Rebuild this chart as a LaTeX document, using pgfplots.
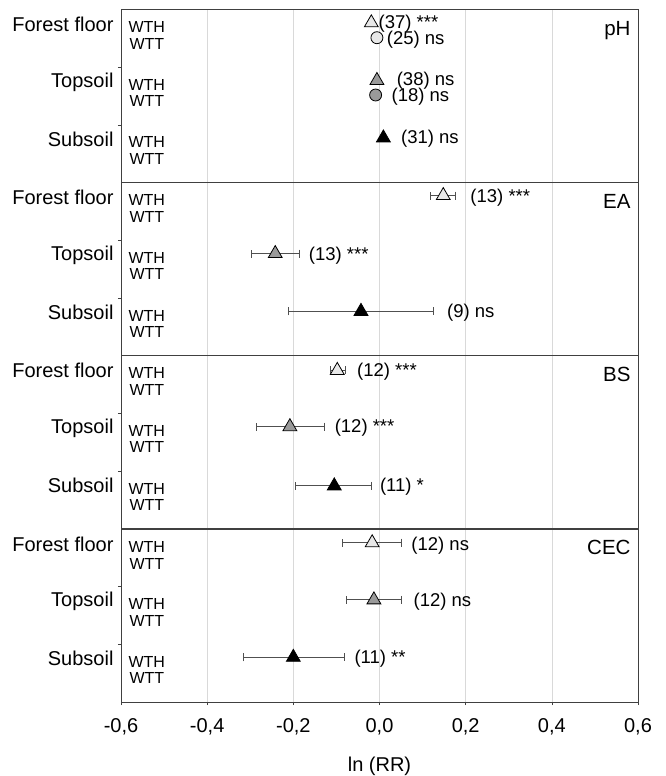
\documentclass[border=0pt]{standalone}
\usepackage{pgfplots}
\pgfplotsset{compat=1.18}
\usepackage{fontspec}
\setmainfont{Liberation Sans}
\definecolor{ffill}{HTML}{E8E8E8}
\definecolor{tfill}{HTML}{9A9A9A}
\definecolor{ebar}{HTML}{505050}
\definecolor{gridc}{HTML}{D9D9D9}
\definecolor{framec}{HTML}{404040}
\newcommand\grp{\fontsize{20bp}{24bp}\selectfont}
\newcommand\trt{\fontsize{16bp}{19bp}\selectfont}
\newcommand\ann{\fontsize{18.5bp}{22bp}\selectfont}
\newcommand\pan{\fontsize{20.5bp}{24bp}\selectfont}
\pgfplotsset{
  panel/.style={scale only axis, width=517bp, height=173.1bp,
    xmin=-0.6, xmax=0.6, ymin=0, ymax=1, y dir=reverse, anchor=south west,
    xtick={-0.6,-0.4,-0.2,0,0.2,0.4,0.6}, xmajorgrids,
    major grid style={gridc, line width=0.6bp},
    axis line style={framec, line width=0.8bp},
    ytick={0.3333,0.6667}, yticklabels={}, ytick pos=left,
    tick align=outside, major tick length=3bp,
    tick style={framec, line width=0.6bp}, clip=false},
  toppanel/.style={xticklabels={}, xtick style={draw=none}},
  eb/.style={only marks, mark=none, error bars/x dir=both, error bars/x explicit,
    error bars/error mark=|,
    error bars/error bar style={ebar, line width=0.9bp},
    error bars/error mark options={ebar, mark size=4bp, line width=0.9bp}},
  tri/.style={only marks, mark=triangle*, mark size=8bp,
    mark options={fill=#1, draw=black, line width=0.8bp}},
  circ/.style={only marks, mark=*, mark size=6bp,
    mark options={fill=#1, draw=black, line width=0.8bp}},
}
\newcommand\rowlabels{%
  \node[anchor=east, font=\grp, xshift=-4bp] at (axis cs:-0.6,0.087) {Forest floor};
  \node[anchor=east, font=\grp, xshift=-4bp] at (axis cs:-0.6,0.42) {Topsoil};
  \node[anchor=east, font=\grp, xshift=-4bp] at (axis cs:-0.6,0.75) {Subsoil};
  \node[anchor=west, font=\trt, xshift=4bp] at (axis cs:-0.6,0.102) {WTH};
  \node[anchor=west, font=\trt, xshift=5bp] at (axis cs:-0.6,0.200) {WTT};
  \node[anchor=west, font=\trt, xshift=4bp] at (axis cs:-0.6,0.435) {WTH};
  \node[anchor=west, font=\trt, xshift=5bp] at (axis cs:-0.6,0.530) {WTT};
  \node[anchor=west, font=\trt, xshift=4bp] at (axis cs:-0.6,0.768) {WTH};
  \node[anchor=west, font=\trt, xshift=5bp] at (axis cs:-0.6,0.864) {WTT};
}
\begin{document}
\begin{tikzpicture}
\path[use as bounding box] (0,0) rectangle (666bp,776bp);

% ---------- pH ----------
\begin{axis}[panel, toppanel, at={(121bp,593.4bp)}]
\addplot[tri=ffill] coordinates {(-0.019,0.077)};
\addplot[circ=ffill] coordinates {(-0.006,0.163)};
\addplot[tri=tfill] coordinates {(-0.006,0.41)};
\addplot[circ=tfill] coordinates {(-0.009,0.494)};
\addplot[tri=black] coordinates {(0.009,0.742)};
\rowlabels
\node[anchor=west, font=\ann] at (axis cs:-0.010,0.08) {(37) ***};
\node[anchor=west, font=\ann] at (axis cs:0.009,0.175) {(25) ns};
\node[anchor=west, font=\ann] at (axis cs:0.032,0.41) {(38) ns};
\node[anchor=west, font=\ann] at (axis cs:0.020,0.505) {(18) ns};
\node[anchor=west, font=\ann] at (axis cs:0.042,0.748) {(31) ns};
\node[anchor=north east, font=\pan] at (axis cs:0.6,0) [xshift=-4bp, yshift=-8bp] {pH};
\end{axis}

% ---------- EA ----------
\begin{axis}[panel, toppanel, at={(121bp,420.3bp)}]
\addplot[eb] coordinates {(0.148,0.075) += (0.029,0) -= (0.030,0)};
\addplot[eb] coordinates {(-0.242,0.41) += (0.056,0) -= (0.055,0)};
\addplot[eb] coordinates {(-0.043,0.744) += (0.168,0) -= (0.169,0)};
\addplot[tri=ffill] coordinates {(0.148,0.075)};
\addplot[tri=tfill] coordinates {(-0.242,0.41)};
\addplot[tri=black] coordinates {(-0.043,0.744)};
\rowlabels
\node[anchor=west, font=\ann] at (axis cs:0.203,0.09) {(13) ***};
\node[anchor=west, font=\ann] at (axis cs:-0.172,0.42) {(13) ***};
\node[anchor=west, font=\ann] at (axis cs:0.149,0.752) {(9) ns};
\node[anchor=north east, font=\pan] at (axis cs:0.6,0) [xshift=-4bp, yshift=-8bp] {EA};
\end{axis}

% ---------- BS ----------
\begin{axis}[panel, toppanel, at={(121bp,247.2bp)}]
\addplot[eb] coordinates {(-0.098,0.085) += (0.019,0) -= (0.017,0)};
\addplot[eb] coordinates {(-0.208,0.41) += (0.080,0) -= (0.078,0)};
\addplot[eb] coordinates {(-0.105,0.752) += (0.086,0) -= (0.090,0)};
\addplot[tri=ffill] coordinates {(-0.098,0.085)};
\addplot[tri=tfill] coordinates {(-0.208,0.41)};
\addplot[tri=black] coordinates {(-0.105,0.752)};
\rowlabels
\node[anchor=west, font=\ann] at (axis cs:-0.060,0.09) {(12) ***};
\node[anchor=west, font=\ann] at (axis cs:-0.112,0.415) {(12) ***};
\node[anchor=west, font=\ann] at (axis cs:-0.007,0.757) {(11) *};
\node[anchor=north east, font=\pan] at (axis cs:0.6,0) [xshift=-4bp, yshift=-8bp] {BS};
\end{axis}

% ---------- CEC ----------
\begin{axis}[panel, at={(121bp,74bp)},
  xticklabels={{-0,6},{-0,4},{-0,2},{0,0},{0,2},{0,4},{0,6}},
  xtick pos=bottom,
  xticklabel style={font=\grp, anchor=center, yshift=-22bp},
  xlabel={ln (RR)}, xlabel style={font=\grp, at={(axis description cs:0.5,0)}, anchor=center, yshift=-64bp}]
\addplot[eb] coordinates {(-0.017,0.08) += (0.069,0) -= (0.069,0)};
\addplot[eb] coordinates {(-0.013,0.41) += (0.065,0) -= (0.064,0)};
\addplot[eb] coordinates {(-0.200,0.742) += (0.118,0) -= (0.116,0)};
\addplot[tri=ffill] coordinates {(-0.017,0.08)};
\addplot[tri=tfill] coordinates {(-0.013,0.41)};
\addplot[tri=black] coordinates {(-0.200,0.742)};
\rowlabels
\node[anchor=west, font=\ann] at (axis cs:0.066,0.095) {(12) ns};
\node[anchor=west, font=\ann] at (axis cs:0.071,0.42) {(12) ns};
\node[anchor=west, font=\ann] at (axis cs:-0.066,0.748) {(11) **};
\node[anchor=north east, font=\pan] at (axis cs:0.6,0) [xshift=-4bp, yshift=-8bp] {CEC};
\end{axis}
\end{tikzpicture}
\end{document}
